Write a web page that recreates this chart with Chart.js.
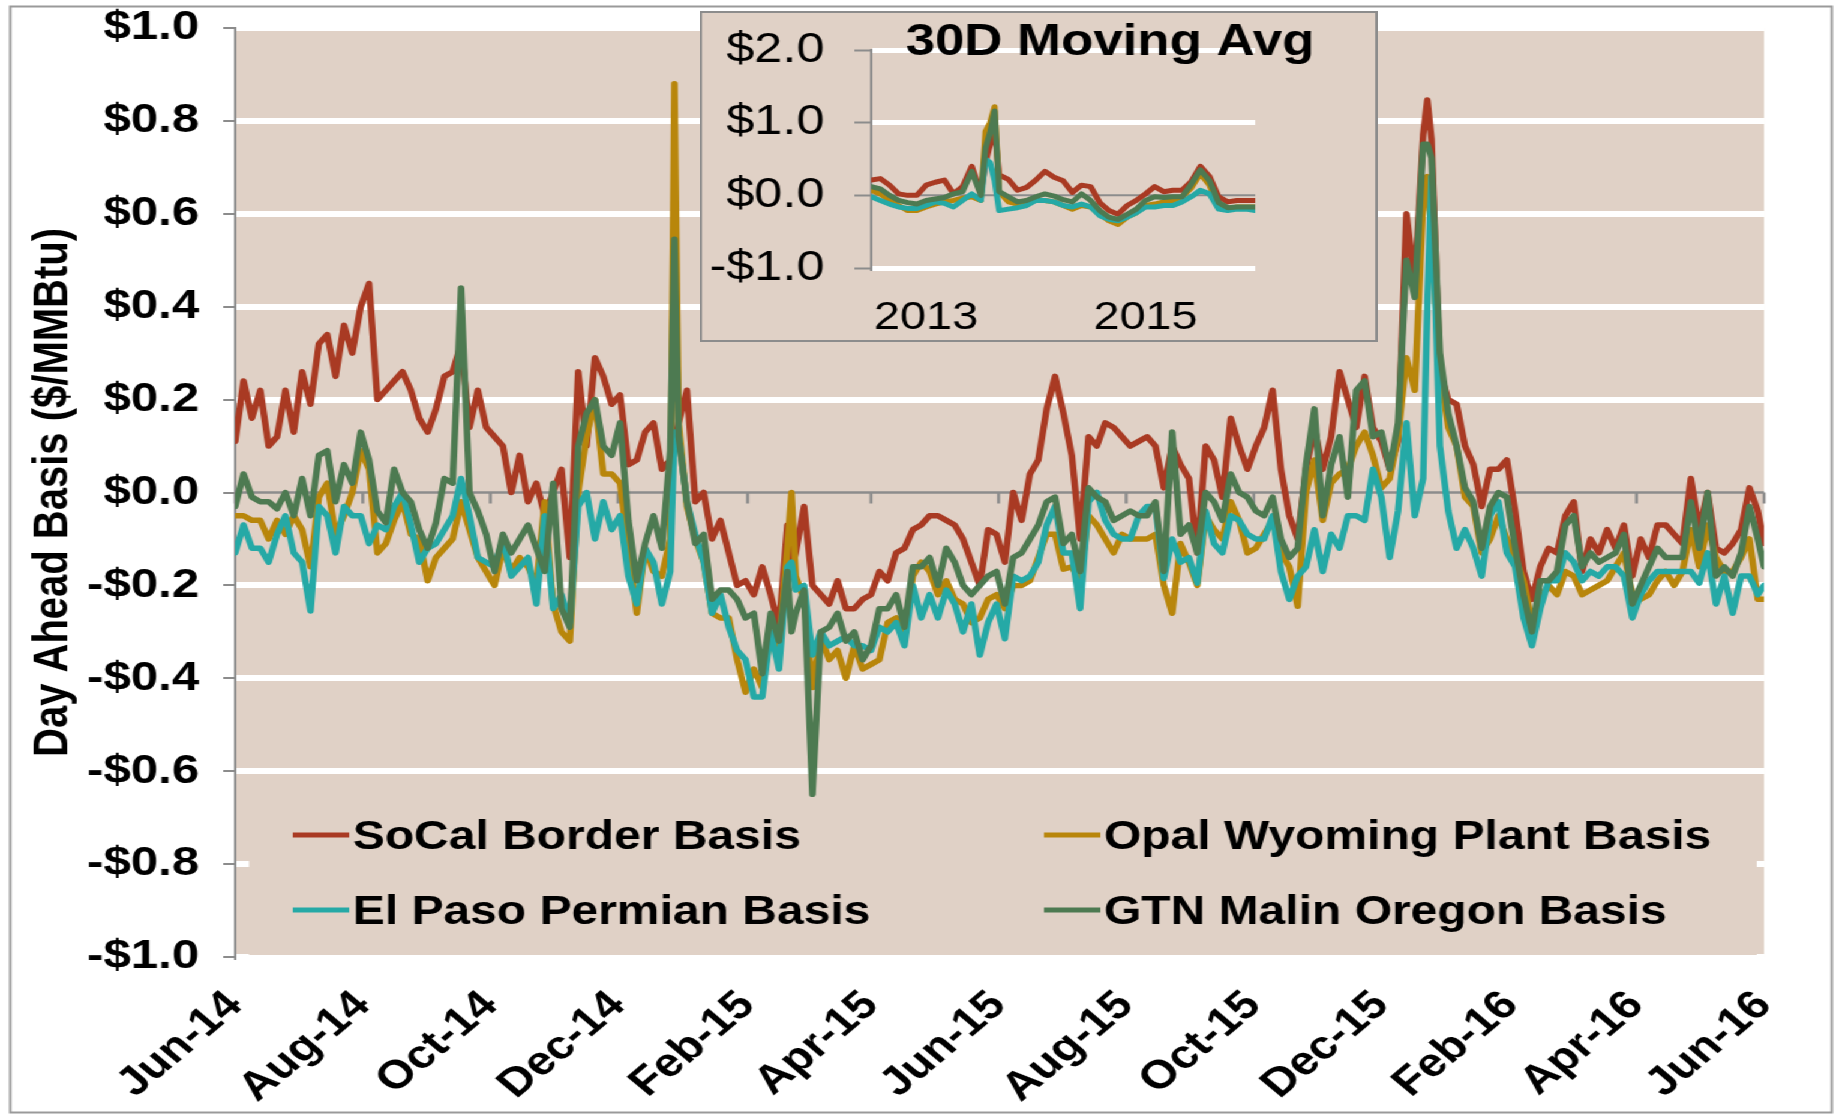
<!DOCTYPE html>
<html>
<head>
<meta charset="utf-8">
<title>Day Ahead Basis</title>
<script src="https://cdn.jsdelivr.net/npm/chart.js@4.4.1/dist/chart.umd.min.js"></script>
<style>
  html, body { margin: 0; padding: 0; background: #fff; }
  /* the source picture is an Excel chart stretched 1.2x sideways */
  #stage { position: relative; width: 1529px; height: 1115px; transform: scaleX(1.2); transform-origin: 0 0; }
  #mainChart { position: absolute; left: 0; top: 0; }
  #insetChart { position: absolute; left: 583px; top: 11px; }
</style>
</head>
<body>
<div id="stage">
  <canvas id="mainChart" width="1529" height="1115"></canvas>
  <canvas id="insetChart" width="565" height="331"></canvas>
</div>
<script>
// ---- main chart data: days since 1 Jun 2014 ----
const days = [
  0, 4, 8, 12, 16, 20, 24, 28, 32, 36, 40, 44, 48, 52, 56, 60,
  64, 68, 72, 76, 80, 84, 88, 92, 96, 100, 104, 108, 112, 116, 120, 124,
  128, 132, 136, 140, 144, 148, 152, 156, 160, 164, 168, 172, 176, 180, 184, 188,
  192, 196, 200, 204, 208, 210, 212, 216, 220, 224, 228, 232, 236, 240, 244, 248,
  252, 256, 260, 264, 266, 268, 272, 276, 280, 284, 288, 292, 296, 300, 304, 308,
  312, 316, 320, 324, 328, 332, 336, 340, 344, 348, 352, 356, 360, 364, 368, 372,
  376, 380, 384, 388, 392, 396, 400, 404, 408, 412, 416, 420, 424, 428, 432, 436,
  440, 444, 448, 452, 456, 460, 464, 468, 472, 476, 480, 484, 488, 492, 496, 500,
  504, 508, 512, 516, 520, 524, 528, 532, 536, 540, 544, 548, 552, 556, 560, 564,
  568, 570, 572, 576, 580, 584, 588, 592, 596, 600, 604, 608, 612, 616, 620, 624,
  628, 632, 636, 640, 644, 648, 652, 656, 660, 664, 668, 672, 676, 680, 684, 688,
  692, 696, 700, 704, 708, 712, 716, 720, 724, 728, 731
];

const socalBorder = [
  0.11, 0.24, 0.16, 0.22, 0.10, 0.12, 0.22, 0.13, 0.26, 0.19, 0.32, 0.34, 0.25, 0.36, 0.30, 0.40,
  0.45, 0.20, 0.22, 0.24, 0.26, 0.22, 0.16, 0.13, 0.18, 0.25, 0.26, 0.32, 0.14, 0.22, 0.14, 0.12,
  0.10, 0.00, 0.08, -0.02, 0.02, -0.05, 0.00, 0.05, -0.14, 0.26, 0.10, 0.29, 0.25, 0.19, 0.21, 0.06,
  0.07, 0.13, 0.15, 0.05, 0.07, 0.10, 0.15, 0.22, -0.02, 0.00, -0.10, -0.06, -0.13, -0.20, -0.19, -0.22,
  -0.16, -0.22, -0.29, -0.07, -0.17, -0.13, -0.03, -0.20, -0.22, -0.24, -0.19, -0.25, -0.25, -0.23, -0.22, -0.17,
  -0.19, -0.13, -0.12, -0.08, -0.07, -0.05, -0.05, -0.06, -0.07, -0.10, -0.15, -0.20, -0.08, -0.09, -0.15, 0.00,
  -0.06, 0.04, 0.07, 0.18, 0.25, 0.17, 0.08, -0.10, 0.12, 0.10, 0.15, 0.14, 0.12, 0.10, 0.11, 0.12,
  0.10, 0.01, 0.10, 0.06, 0.03, -0.13, 0.10, 0.07, -0.01, 0.16, 0.10, 0.05, 0.10, 0.14, 0.22, 0.05,
  -0.05, -0.10, 0.05, 0.14, 0.05, 0.12, 0.26, 0.20, 0.14, 0.25, 0.14, 0.11, 0.05, 0.11, 0.60, 0.45,
  0.77, 0.845, 0.76, 0.26, 0.20, 0.19, 0.10, 0.06, -0.03, 0.05, 0.05, 0.07, -0.04, -0.17, -0.23, -0.16,
  -0.12, -0.13, -0.05, -0.02, -0.17, -0.10, -0.13, -0.08, -0.12, -0.07, -0.18, -0.10, -0.14, -0.07, -0.07, -0.09,
  -0.11, 0.03, -0.08, 0.00, -0.12, -0.13, -0.11, -0.08, 0.01, -0.04, -0.11
];

const opalWyoming = [
  -0.05, -0.05, -0.06, -0.06, -0.10, -0.06, -0.09, -0.05, -0.08, -0.16, -0.01, 0.02, -0.09, -0.05, 0.00, 0.09,
  0.05, -0.13, -0.11, -0.06, -0.02, -0.09, -0.10, -0.19, -0.14, -0.12, -0.10, -0.02, -0.08, -0.14, -0.17, -0.20,
  -0.12, -0.17, -0.14, -0.16, -0.20, -0.02, -0.24, -0.30, -0.32, 0.00, 0.12, 0.20, 0.04, 0.04, 0.02, -0.12,
  -0.26, -0.12, -0.17, -0.18, -0.10, 0.88, 0.15, -0.03, -0.10, -0.15, -0.26, -0.27, -0.27, -0.36, -0.43, -0.38,
  -0.42, -0.30, -0.33, -0.12, 0.00, -0.18, -0.23, -0.42, -0.31, -0.36, -0.34, -0.40, -0.33, -0.38, -0.37, -0.36,
  -0.28, -0.27, -0.30, -0.18, -0.15, -0.17, -0.22, -0.19, -0.23, -0.24, -0.28, -0.27, -0.23, -0.22, -0.25, -0.20,
  -0.20, -0.19, -0.14, -0.09, -0.09, -0.165, -0.16, -0.19, -0.05, -0.07, -0.10, -0.13, -0.09, -0.10, -0.10, -0.10,
  -0.09, -0.20, -0.26, -0.11, -0.15, -0.20, -0.05, -0.08, -0.10, -0.02, -0.06, -0.13, -0.12, -0.09, -0.06, -0.13,
  -0.16, -0.245, 0.00, 0.07, -0.06, 0.02, 0.04, 0.05, 0.10, 0.13, 0.08, 0.01, 0.03, 0.12, 0.29, 0.22,
  0.63, 0.68, 0.55, 0.26, 0.14, 0.10, -0.01, -0.03, -0.13, -0.10, -0.05, -0.10, -0.14, -0.19, -0.28, -0.23,
  -0.20, -0.22, -0.17, -0.18, -0.22, -0.21, -0.20, -0.19, -0.16, -0.13, -0.22, -0.23, -0.22, -0.19, -0.17, -0.20,
  -0.17, -0.08, -0.16, -0.07, -0.14, -0.17, -0.17, -0.14, -0.10, -0.23, -0.23
];

const elPasoPermian = [
  -0.13, -0.07, -0.12, -0.12, -0.15, -0.09, -0.05, -0.13, -0.15, -0.255, -0.03, -0.05, -0.13, -0.03, -0.05, -0.05,
  -0.11, -0.07, -0.08, -0.03, 0.00, -0.07, -0.15, -0.12, -0.11, -0.08, -0.05, 0.03, -0.05, -0.14, -0.15, -0.16,
  -0.10, -0.18, -0.16, -0.14, -0.24, -0.05, -0.25, -0.22, -0.28, -0.03, 0.00, -0.10, -0.02, -0.08, -0.05, -0.18,
  -0.24, -0.12, -0.15, -0.24, -0.17, 0.13, 0.12, -0.02, -0.09, -0.15, -0.26, -0.22, -0.29, -0.34, -0.36, -0.44,
  -0.44, -0.30, -0.38, -0.16, -0.15, -0.21, -0.20, -0.35, -0.30, -0.33, -0.32, -0.31, -0.33, -0.33, -0.34, -0.29,
  -0.30, -0.28, -0.33, -0.20, -0.27, -0.22, -0.27, -0.21, -0.24, -0.30, -0.24, -0.35, -0.28, -0.24, -0.315, -0.18,
  -0.19, -0.18, -0.15, -0.07, -0.03, -0.13, -0.13, -0.25, -0.02, 0.00, -0.06, -0.09, -0.10, -0.10, -0.05, -0.03,
  -0.03, -0.185, -0.10, -0.15, -0.14, -0.195, -0.04, -0.11, -0.13, -0.05, -0.06, -0.09, -0.10, -0.10, -0.05, -0.17,
  -0.23, -0.18, -0.16, -0.08, -0.17, -0.09, -0.12, -0.05, -0.05, -0.06, 0.05, -0.01, -0.14, -0.04, 0.15, -0.05,
  0.03, 0.40, 0.68, 0.10, -0.04, -0.12, -0.08, -0.12, -0.18, -0.05, -0.02, -0.13, -0.16, -0.27, -0.33, -0.25,
  -0.19, -0.19, -0.13, -0.15, -0.19, -0.17, -0.18, -0.16, -0.16, -0.18, -0.27, -0.22, -0.19, -0.17, -0.17, -0.17,
  -0.17, -0.17, -0.195, -0.13, -0.24, -0.18, -0.26, -0.18, -0.18, -0.22, -0.20
];

const gtnMalin = [
  -0.03, 0.04, -0.01, -0.02, -0.02, -0.035, 0.00, -0.05, 0.03, -0.05, 0.08, 0.09, -0.02, 0.06, 0.02, 0.13,
  0.07, -0.04, -0.065, 0.05, 0.00, -0.02, -0.08, -0.12, -0.065, 0.03, 0.02, 0.44, 0.00, -0.04, -0.09, -0.17,
  -0.09, -0.13, -0.10, -0.07, -0.12, -0.17, 0.02, -0.25, -0.29, 0.10, 0.17, 0.20, 0.10, 0.08, 0.15, -0.06,
  -0.19, -0.11, -0.05, -0.12, 0.09, 0.545, 0.12, -0.02, -0.11, -0.09, -0.23, -0.21, -0.21, -0.23, -0.27, -0.26,
  -0.39, -0.26, -0.32, -0.17, -0.30, -0.26, -0.21, -0.65, -0.30, -0.29, -0.26, -0.32, -0.30, -0.36, -0.33, -0.25,
  -0.25, -0.22, -0.29, -0.16, -0.16, -0.14, -0.20, -0.12, -0.15, -0.20, -0.22, -0.20, -0.18, -0.17, -0.24, -0.14,
  -0.13, -0.10, -0.07, -0.02, -0.01, -0.11, -0.09, -0.17, 0.01, -0.01, -0.02, -0.06, -0.05, -0.04, -0.05, -0.05,
  -0.02, -0.17, 0.13, -0.09, -0.07, -0.13, 0.00, -0.02, -0.06, 0.04, 0.00, -0.01, -0.04, -0.05, -0.01, -0.10,
  -0.14, -0.12, 0.06, 0.18, -0.05, 0.06, 0.12, -0.01, 0.22, 0.24, 0.12, 0.13, 0.05, 0.15, 0.50, 0.42,
  0.75, 0.75, 0.72, 0.30, 0.17, 0.10, 0.01, -0.02, -0.12, -0.03, 0.00, -0.01, -0.12, -0.22, -0.30, -0.19,
  -0.19, -0.17, -0.07, -0.05, -0.16, -0.13, -0.15, -0.14, -0.13, -0.09, -0.24, -0.20, -0.16, -0.12, -0.14, -0.14,
  -0.14, -0.02, -0.12, 0.00, -0.18, -0.16, -0.18, -0.13, -0.03, -0.10, -0.16
];

const tickDays = [0, 61, 122, 183, 245, 304, 365, 426, 487, 548, 610, 670, 731];
const tickLabels = ['Jun-14', 'Aug-14', 'Oct-14', 'Dec-14', 'Feb-15', 'Apr-15', 'Jun-15',
                    'Aug-15', 'Oct-15', 'Dec-15', 'Feb-16', 'Apr-16', 'Jun-16'];

// ---- inset (30 day moving average): months since Jan 2013 ----
const insetMonths = [0, 1, 2, 3, 4, 5, 6, 7, 8, 9, 10, 11, 12, 12.5, 13, 13.5, 14, 15, 16, 17, 18, 19, 20,
                     21, 22, 23, 24, 25, 26, 27, 28, 29, 30, 31, 32, 33, 34, 35, 36, 37, 38, 39, 40, 41, 42];
const insetSocal = [0.21, 0.23, 0.14, 0.02, 0.00, 0.00, 0.14, 0.18, 0.21, 0.02, 0.12, 0.40, 0.02, 0.45, 0.70, 0.90,
                    0.28, 0.22, 0.07, 0.11, 0.21, 0.33, 0.25, 0.20, 0.04, 0.14, 0.12, -0.10, -0.21, -0.26, -0.14,
                    -0.07, 0.02, 0.12, 0.05, 0.07, 0.07, 0.19, 0.40, 0.26, -0.02, -0.09, -0.07, -0.07, -0.07];
const insetOpal = [0.07, 0.02, -0.07, -0.14, -0.21, -0.21, -0.16, -0.12, -0.09, -0.07, -0.04, -0.02, -0.07, 0.88, 1.00, 1.22,
                   0.05, -0.09, -0.12, -0.07, -0.07, -0.07, -0.09, -0.14, -0.19, -0.14, -0.16, -0.26, -0.35, -0.40, -0.30,
                   -0.24, -0.14, -0.12, -0.09, -0.07, -0.02, 0.10, 0.30, 0.14, -0.16, -0.19, -0.16, -0.16, -0.16];
const insetElPaso = [-0.02, -0.07, -0.12, -0.16, -0.18, -0.18, -0.14, -0.09, -0.11, -0.16, -0.07, 0.02, -0.07, 0.50, 0.45, 0.20,
                     -0.21, -0.19, -0.17, -0.14, -0.07, -0.07, -0.09, -0.14, -0.16, -0.12, -0.16, -0.28, -0.33, -0.35, -0.30,
                     -0.24, -0.16, -0.16, -0.14, -0.14, -0.09, -0.02, 0.07, 0.02, -0.19, -0.21, -0.19, -0.19, -0.21];
const insetGtn = [0.12, 0.09, 0.00, -0.07, -0.10, -0.12, -0.07, -0.05, -0.03, 0.02, 0.05, 0.33, 0.00, 0.65, 0.86, 1.16,
                  0.05, -0.02, -0.09, -0.07, -0.02, 0.02, -0.01, -0.06, -0.09, 0.02, -0.07, -0.21, -0.30, -0.33, -0.26,
                  -0.19, -0.07, -0.02, -0.03, -0.02, -0.02, 0.15, 0.35, 0.20, -0.10, -0.17, -0.16, -0.16, -0.16];
const insetTickMonths = [6, 30];
const insetTickLabels = ['2013', '2015'];

const seriesNames = ['SoCal Border Basis', 'Opal Wyoming Plant Basis', 'El Paso Permian Basis', 'GTN Malin Oregon Basis'];
const seriesColors = ['#a93a23', '#b8860b', '#25a9a6', '#4d7a51'];

const FONT = "'Liberation Sans', Arial, Helvetica, sans-serif";
const PLOT_BG = '#e0d1c6';
const AXIS_GRAY = '#8c8c8c';

Chart.defaults.font.family = FONT;
Chart.defaults.color = '#000';

function money(v) {
  if (Math.abs(v) < 1e-9) return '$0.0';
  return (v < 0 ? '-$' : '$') + Math.abs(v).toFixed(1);
}

function toPoints(xs, ys) {
  return xs.map((x, i) => ({ x: x, y: ys[i] }));
}

function makeDatasets(xs, seriesList, width) {
  // Excel draws the last series on top; Chart.js draws low "order" on top
  return seriesList.map((ys, i) => ({
    label: seriesNames[i],
    data: toPoints(xs, ys),
    borderColor: seriesColors[i],
    backgroundColor: seriesColors[i],
    borderWidth: width,
    order: seriesList.length - i
  }));
}

function gridColor(ctx) {
  return Math.abs(ctx.tick.value) < 1e-9 ? 'rgba(0,0,0,0)' : '#ffffff';
}

// y labels must not push the plot area down
function fixYAxis(width) {
  return s => {
    s.width = width;
    s.paddingTop = 0;
    s.paddingBottom = 0;
  };
}

// fills the plot area
const plotBackground = {
  id: 'plotBackground',
  beforeDraw(chart, args, opts) {
    const { ctx, chartArea: a } = chart;
    ctx.save();
    if (opts.frame) {
      ctx.fillStyle = PLOT_BG;
      ctx.fillRect(0, 0, chart.width, chart.height);
      ctx.strokeStyle = AXIS_GRAY;
      ctx.lineWidth = 2;
      ctx.strokeRect(1, 1, chart.width - 2, chart.height - 2);
    }
    ctx.fillStyle = PLOT_BG;
    ctx.fillRect(a.left, a.top, a.right - a.left, a.bottom - a.top);
    ctx.restore();
  }
};

// horizontal axis line drawn where y = 0, with its tick marks
const zeroAxis = {
  id: 'zeroAxis',
  beforeDatasetsDraw(chart, args, opts) {
    const { ctx, chartArea: a, scales } = chart;
    const y0 = scales.y.getPixelForValue(0);
    ctx.save();
    ctx.strokeStyle = AXIS_GRAY;
    ctx.lineWidth = opts.width;
    ctx.beginPath();
    ctx.moveTo(a.left, y0);
    ctx.lineTo(a.right, y0);
    (opts.ticks || []).forEach(v => {
      const px = scales.x.getPixelForValue(v);
      ctx.moveTo(px, y0);
      ctx.lineTo(px, y0 + opts.tickLength);
    });
    ctx.stroke();
    ctx.restore();
  }
};

// legend boxed inside the plot, two columns
const boxLegend = {
  id: 'boxLegend',
  afterDatasetsDraw(chart, args, opts) {
    const { ctx } = chart;
    const b = opts.box;
    ctx.save();
    ctx.fillStyle = PLOT_BG;
    ctx.fillRect(b.left, b.top, b.width, b.height);
    ctx.font = 'bold 40px ' + FONT;
    ctx.textBaseline = 'middle';
    ctx.lineWidth = 5;
    chart.data.datasets.forEach((ds, i) => {
      const x = opts.cols[i % 2];
      const y = opts.rows[Math.floor(i / 2)];
      ctx.strokeStyle = ds.borderColor;
      ctx.beginPath();
      ctx.moveTo(x, y);
      ctx.lineTo(x + opts.swatch, y);
      ctx.stroke();
      ctx.fillStyle = '#000';
      ctx.fillText(ds.label, x + opts.swatch + 3, y + 3);
    });
    ctx.restore();
  }
};

// thin grey frame round the whole picture
const outerFrame = {
  id: 'outerFrame',
  afterDraw(chart) {
    const { ctx } = chart;
    ctx.save();
    ctx.strokeStyle = '#9a9a9a';
    ctx.lineWidth = 2;
    ctx.strokeRect(8.5, 6.5, 1518, 1106);
    ctx.restore();
  }
};

const insetTitle = {
  id: 'insetTitle',
  afterDraw(chart, args, opts) {
    const { ctx } = chart;
    ctx.save();
    ctx.font = 'bold 44px ' + FONT;
    ctx.fillStyle = '#000';
    ctx.textAlign = 'center';
    ctx.textBaseline = 'alphabetic';
    ctx.fillText(opts.text, opts.x, opts.y);
    ctx.restore();
  }
};

new Chart(document.getElementById('mainChart'), {
  type: 'line',
  data: { datasets: makeDatasets(days, [socalBorder, opalWyoming, elPasoPermian, gtnMalin], 5.5) },
  plugins: [plotBackground, zeroAxis, boxLegend, outerFrame],
  options: {
    responsive: false,
    animation: false,
    devicePixelRatio: 1,
    layout: { padding: { left: 0, top: 28, right: 54, bottom: 0 } },
    elements: {
      point: { radius: 0 },
      line: { tension: 0, borderJoinStyle: 'round', borderCapStyle: 'round' }
    },
    plugins: {
      legend: { display: false },
      tooltip: { enabled: false },
      plotBackground: { frame: false },
      zeroAxis: { width: 2.5, tickLength: 11, ticks: tickDays },
      boxLegend: {
        box: { left: 207.5, top: 797, width: 1256.5, height: 158 },
        cols: [244, 870],
        rows: [835, 910],
        swatch: 47
      }
    },
    scales: {
      x: {
        type: 'linear',
        min: 0,
        max: 731,
        grid: { display: false, drawTicks: false },
        border: { display: false },
        afterBuildTicks: s => { s.ticks = tickDays.map(v => ({ value: v })); },
        afterFit: s => { s.height = 158; },
        ticks: {
          autoSkip: false,
          minRotation: 45,
          maxRotation: 45,
          padding: 25,
          font: { size: 40, weight: 'bold' },
          callback: (v, i) => tickLabels[i]
        }
      },
      y: {
        min: -1,
        max: 1,
        afterFit: fixYAxis(196),
        ticks: {
          stepSize: 0.2,
          padding: 20,
          font: { size: 41, weight: 'bold' },
          callback: v => money(v)
        },
        grid: {
          color: gridColor,
          lineWidth: 6,
          drawTicks: true,
          tickLength: 10,
          tickColor: AXIS_GRAY,
          tickWidth: 2
        },
        border: { display: true, color: AXIS_GRAY, width: 2 },
        title: {
          display: true,
          text: 'Day Ahead Basis ($/MMBtu)',
          font: { size: 40, weight: 'bold' },
          padding: { top: 21, bottom: 0 }
        }
      }
    }
  }
});

new Chart(document.getElementById('insetChart'), {
  type: 'line',
  data: { datasets: makeDatasets(insetMonths, [insetSocal, insetOpal, insetElPaso, insetGtn], 5) },
  plugins: [plotBackground, zeroAxis, insetTitle],
  options: {
    responsive: false,
    animation: false,
    devicePixelRatio: 1,
    layout: { padding: { left: 0, top: 39, right: 102, bottom: 0 } },
    elements: {
      point: { radius: 0 },
      line: { tension: 0, borderJoinStyle: 'round', borderCapStyle: 'round' }
    },
    plugins: {
      legend: { display: false },
      tooltip: { enabled: false },
      plotBackground: { frame: true },
      zeroAxis: { width: 2, tickLength: 0, ticks: [] },
      insetTitle: { text: '30D Moving Avg', x: 342, y: 44 }
    },
    scales: {
      x: {
        type: 'linear',
        min: 0,
        max: 42,
        grid: { display: false, drawTicks: false },
        border: { display: false },
        afterBuildTicks: s => { s.ticks = insetTickMonths.map(v => ({ value: v })); },
        afterFit: s => { s.height = 74; },
        ticks: {
          autoSkip: false,
          minRotation: 0,
          maxRotation: 0,
          padding: 27,
          font: { size: 39 },
          callback: (v, i) => insetTickLabels[i]
        }
      },
      y: {
        min: -1,
        max: 2,
        afterFit: fixYAxis(143),
        ticks: {
          stepSize: 1,
          padding: 25,
          font: { size: 42 },
          callback: v => money(v)
        },
        grid: {
          color: gridColor,
          lineWidth: 5,
          drawTicks: true,
          tickLength: 14,
          tickColor: AXIS_GRAY,
          tickWidth: 2
        },
        border: { display: true, color: AXIS_GRAY, width: 2 }
      }
    }
  }
});
</script>
</body>
</html>
